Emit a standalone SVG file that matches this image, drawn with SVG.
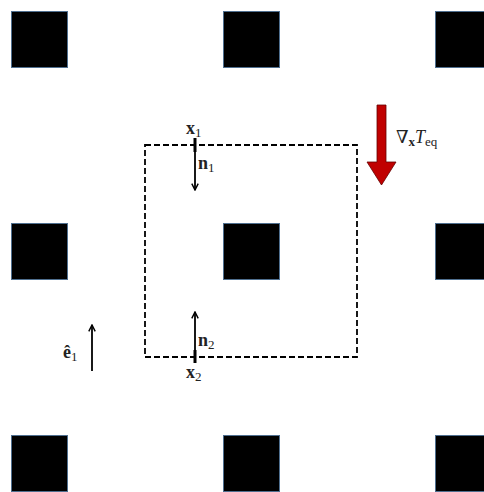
<svg xmlns="http://www.w3.org/2000/svg" width="484" height="492" viewBox="0 0 484 492">
<style>
.sq{fill:#000;stroke:#4f6f8f;stroke-width:1}
.t{font-family:"Liberation Serif","DejaVu Serif",serif;font-size:18px;fill:#222}
.b{font-weight:bold}
.s{font-size:13px}
.ar{stroke:#000;stroke-width:1.8;fill:none}
</style>
<defs>
<marker id="ah" viewBox="0 0 10 10" refX="9" refY="5" markerWidth="8" markerHeight="8" orient="auto" markerUnits="userSpaceOnUse">
<path d="M1,1 L9,5 L1,9" fill="none" stroke="#000" stroke-width="1.8"/>
</marker>
</defs>
<rect width="484" height="492" fill="#fff"/>
<g id="squares">
<rect id="sq11" class="sq" x="11.5" y="11.5" width="56" height="56"/>
<rect id="sq12" class="sq" x="223.5" y="11.5" width="56" height="56"/>
<rect id="sq13" class="sq" x="435.5" y="11.5" width="56" height="56"/>
<rect id="sq21" class="sq" x="11.5" y="223.5" width="56" height="56"/>
<rect id="sq22" class="sq" x="223.5" y="223.5" width="56" height="56"/>
<rect id="sq23" class="sq" x="435.5" y="223.5" width="56" height="56"/>
<rect id="sq31" class="sq" x="11.5" y="435.5" width="56" height="56"/>
<rect id="sq32" class="sq" x="223.5" y="435.5" width="56" height="56"/>
<rect id="sq33" class="sq" x="435.5" y="435.5" width="56" height="56"/>
</g>
<g id="cell">
<rect x="145" y="145" width="212" height="212" fill="none" stroke="#000" stroke-width="1.8" stroke-dasharray="6,3"/>
</g>
<g id="connectors">
<line x1="195" y1="138" x2="195" y2="152" stroke="#000" stroke-width="3"/>
<line class="ar" x1="195" y1="150" x2="195" y2="190" marker-end="url(#ah)"/>
<line x1="195" y1="350" x2="195" y2="363" stroke="#000" stroke-width="3"/>
<line class="ar" x1="195" y1="352" x2="195" y2="312" marker-end="url(#ah)"/>
<line class="ar" x1="92" y1="371" x2="92" y2="325" marker-end="url(#ah)"/>
<path id="grad" d="M377,105 H386 V162 H396 L381.5,185 L367,162 H377 Z" fill="#c00000" stroke="#600" stroke-width="0.8"/>
</g>
<g id="labels">
<text class="t" x="186" y="134"><tspan class="b">x</tspan><tspan class="s" dy="3">1</tspan></text>
<text class="t" x="198" y="169"><tspan class="b">n</tspan><tspan class="s" dy="3">1</tspan></text>
<text class="t" x="198" y="346"><tspan class="b">n</tspan><tspan class="s" dy="3">2</tspan></text>
<text class="t" x="186" y="378"><tspan class="b">x</tspan><tspan class="s" dy="3">2</tspan></text>
<text class="t" x="63" y="358"><tspan class="b">ê</tspan><tspan class="s" dy="3">1</tspan></text>
<text class="t" x="396" y="143">∇<tspan class="s b" dy="3">x</tspan><tspan font-style="italic" dy="-3">T</tspan><tspan class="s" dy="3">eq</tspan></text>
</g>
</svg>
